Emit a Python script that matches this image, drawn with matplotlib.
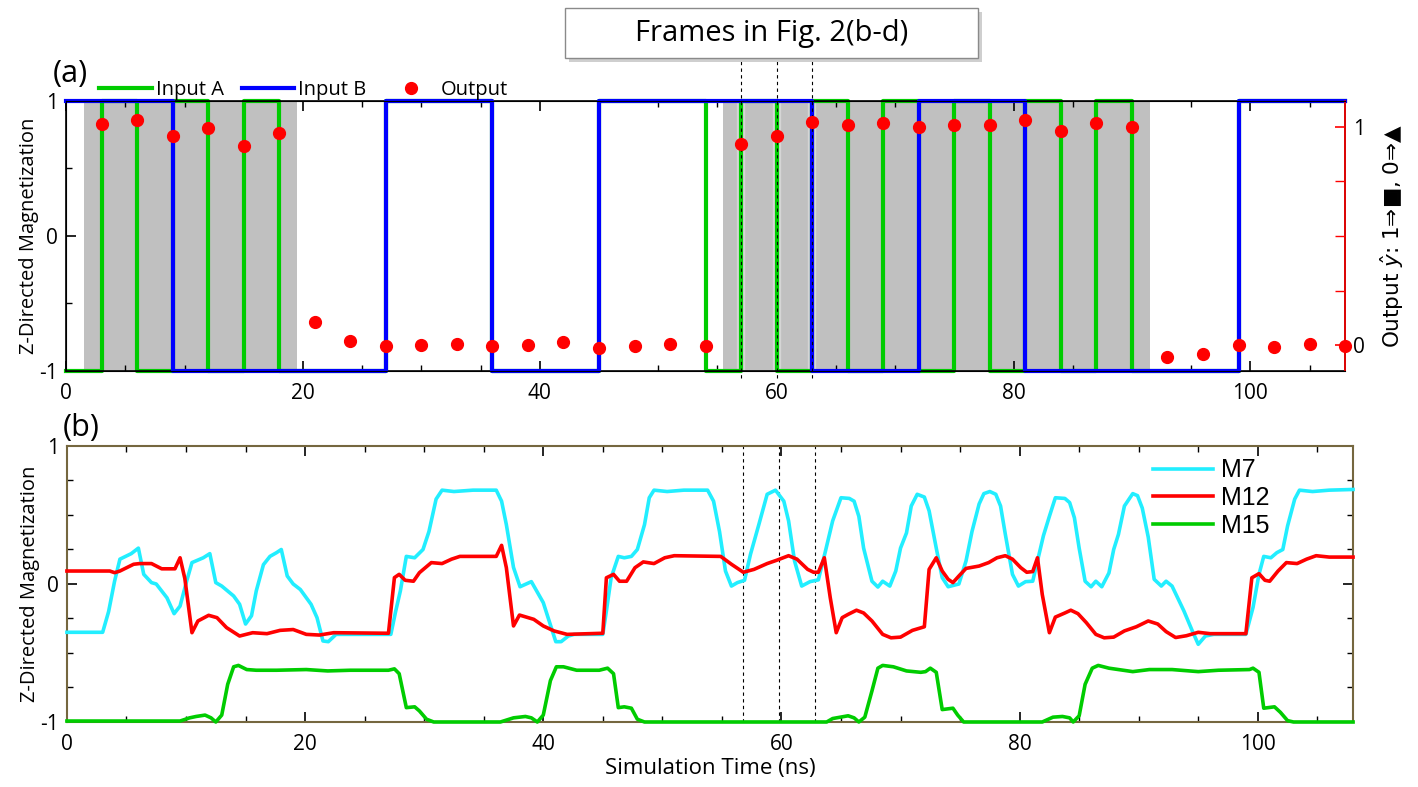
import numpy as np
import matplotlib
matplotlib.use("Agg")
import matplotlib.pyplot as plt
from matplotlib.ticker import MultipleLocator, FixedLocator
from matplotlib.patches import Rectangle

plt.rcParams['font.family'] = ['Open Sans', 'DejaVu Sans']
plt.rcParams['font.size'] = 14.5
plt.rcParams['axes.unicode_minus'] = False

# ---- panel (a) data ----
slot_edges = np.arange(0, 111, 3)          # 0 .. 108 ns, 3 ns per bit
input_a = [-1, 1, -1, 1, -1, 1, -1, -1, -1, 1, 1, 1, -1, -1, -1, 1, 1, 1,
           -1, 1, -1, 1, -1, 1, -1, 1, -1, 1, -1, 1, -1, -1, -1, 1, 1, 1]
input_b = [1, 1, 1, -1, -1, -1, -1, -1, -1, 1, 1, 1, -1, -1, -1, 1, 1, 1,
           1, 1, 1, -1, -1, -1, 1, 1, 1, -1, -1, -1, -1, -1, -1, 1, 1, 1]
out_t = list(range(3, 109, 3))
out_v = [1.014, 1.03, 0.959, 0.994, 0.913, 0.974, 0.107, 0.02, -0.003, 0.0,
         0.006, -0.005, 0.0, 0.012, -0.012, -0.006, 0.006, -0.005, 0.921, 0.957,
         1.021, 1.009, 1.02, 1.0, 1.009, 1.009, 1.032, 0.982, 1.02, 1.0,
         -0.057, -0.041, 0.0, -0.008, 0.006, -0.003]
shade_start = [1.5, 55.5]
shade_end = [19.5, 91.5]
frame_t = [57, 60, 63]

# ---- panel (b) data ----
m7 = [(0, -0.35), (3.0, -0.35), (3.5, -0.2), (4.0, 0.02), (4.45, 0.18), (5.4, 0.22),
      (6.0, 0.26), (6.45, 0.07), (7.1, 0.01), (7.5, 0.0), (8.4, -0.1), (9.0, -0.215),
      (9.5, -0.16), (10.05, 0.02), (10.5, 0.155), (11.45, 0.19), (12.0, 0.22),
      (12.5, 0.01), (13.0, -0.015), (14.0, -0.087), (14.5, -0.147), (15.0, -0.29),
      (15.5, -0.23), (15.9, -0.05), (16.5, 0.14), (17.05, 0.2), (17.6, 0.227),
      (18.0, 0.25), (18.5, 0.058), (19.0, 0.0), (19.6, -0.04), (20.5, -0.147),
      (21.0, -0.244), (21.5, -0.413), (21.95, -0.418), (22.6, -0.365), (27.2, -0.365),
      (27.6, -0.2), (28.0, -0.05), (28.5, 0.2), (29.2, 0.19), (29.9, 0.25), (30.4, 0.38),
      (31.0, 0.615), (31.5, 0.68), (32.5, 0.67), (34.1, 0.68), (36.05, 0.68), (36.5, 0.6),
      (36.9, 0.43), (37.5, 0.12), (38.05, -0.02), (39.0, 0.017), (40.0, -0.135),
      (40.5, -0.27), (41.05, -0.418), (41.5, -0.418), (42.1, -0.377), (42.6, -0.365),
      (45.0, -0.365), (45.3, -0.196), (45.7, 0.046), (46.3, 0.2), (46.8, 0.19),
      (47.4, 0.2), (47.9, 0.25), (48.5, 0.43), (48.9, 0.625), (49.3, 0.68), (50.4, 0.67),
      (51.8, 0.68), (53.8, 0.68), (54.3, 0.6), (54.8, 0.38), (55.3, 0.094),
      (55.8, -0.015), (56.3, 0.01), (56.9, 0.027), (57.4, 0.215), (58.1, 0.43),
      (58.8, 0.65), (59.5, 0.68), (60.2, 0.6), (60.6, 0.457), (61.1, 0.167),
      (61.7, -0.015), (62.4, 0.017), (63.1, 0.03), (63.7, 0.24), (64.3, 0.457),
      (65.0, 0.625), (65.7, 0.62), (66.1, 0.6), (66.5, 0.49), (66.9, 0.26), (67.6, 0.02),
      (68.1, -0.022), (68.5, 0.02), (69.1, -0.015), (69.6, 0.094), (70.0, 0.26),
      (70.5, 0.37), (70.9, 0.565), (71.4, 0.65), (72.0, 0.63), (72.4, 0.53), (73.0, 0.26),
      (73.5, 0.046), (74.0, -0.02), (74.9, 0.0), (75.5, 0.167), (76.0, 0.38),
      (76.6, 0.58), (77.0, 0.655), (77.5, 0.67), (78.0, 0.65), (78.4, 0.565),
      (78.8, 0.36), (79.4, 0.07), (79.9, -0.015), (80.5, 0.017), (81.1, 0.02),
      (81.5, 0.167), (82.0, 0.35), (82.5, 0.49), (83.0, 0.625), (83.8, 0.62),
      (84.2, 0.59), (84.6, 0.48), (85.0, 0.26), (85.5, 0.02), (86.0, -0.02),
      (86.4, 0.02), (86.9, -0.02), (87.5, 0.08), (87.9, 0.25), (88.3, 0.36),
      (88.8, 0.565), (89.5, 0.655), (89.9, 0.64), (90.3, 0.55), (90.8, 0.34),
      (91.3, 0.034), (91.9, -0.015), (92.3, 0.02), (92.8, -0.015), (93.8, -0.196),
      (94.5, -0.34), (95.0, -0.437), (95.6, -0.377), (96.3, -0.365), (99.0, -0.365),
      (99.6, -0.17), (100.1, 0.07), (100.5, 0.2), (101.1, 0.19), (101.6, 0.227),
      (102.1, 0.25), (102.5, 0.42), (103.1, 0.615), (103.5, 0.68), (104.6, 0.67),
      (106.0, 0.68), (108.0, 0.685)]
m12 = [(0, 0.094), (3.6, 0.094), (4.0, 0.082), (4.45, 0.094), (5.6, 0.143), (6.1, 0.148),
       (7.1, 0.148), (7.96, 0.11), (9.07, 0.11), (9.5, 0.19), (9.9, 0.04), (10.5, -0.353),
       (11.0, -0.268), (11.9, -0.227), (12.6, -0.244), (13.4, -0.316), (14.5, -0.377),
       (15.6, -0.353), (16.8, -0.36), (17.9, -0.336), (19.0, -0.33), (20.1, -0.365),
       (21.2, -0.37), (22.4, -0.353), (27.0, -0.357), (27.5, 0.046), (27.9, 0.07),
       (28.4, 0.027), (29.1, 0.02), (29.6, 0.082), (30.6, 0.155), (31.5, 0.148),
       (32.3, 0.18), (33.0, 0.2), (36.05, 0.2), (36.5, 0.28), (36.9, 0.118),
       (37.5, -0.304), (38.0, -0.225), (39.2, -0.256), (40.0, -0.304), (40.9, -0.34),
       (42.0, -0.365), (45.0, -0.357), (45.3, 0.045), (45.9, 0.07), (46.4, 0.02),
       (47.0, 0.02), (47.7, 0.118), (48.4, 0.16), (49.3, 0.148), (50.2, 0.19),
       (51.0, 0.205), (54.9, 0.2), (55.8, 0.143), (56.8, 0.085), (57.7, 0.106),
       (58.8, 0.148), (59.6, 0.172), (60.6, 0.205), (61.3, 0.18), (62.2, 0.106),
       (62.7, 0.085), (63.1, 0.085), (63.6, 0.19), (64.1, -0.1), (64.6, -0.353),
       (65.1, -0.244), (65.6, -0.22), (66.3, -0.19), (66.9, -0.21), (67.6, -0.268),
       (68.5, -0.365), (69.2, -0.39), (70.0, -0.385), (71.0, -0.336), (72.0, -0.31),
       (72.4, 0.106), (73.0, 0.19), (73.5, 0.094), (74.0, 0.034), (74.4, 0.01),
       (74.9, 0.058), (75.5, 0.113), (76.6, 0.13), (77.4, 0.155), (78.1, 0.19),
       (78.8, 0.205), (79.4, 0.18), (80.1, 0.118), (80.6, 0.085), (81.1, 0.09),
       (81.5, 0.19), (81.9, -0.075), (82.5, -0.353), (83.0, -0.24), (83.8, -0.21),
       (84.3, -0.19), (84.9, -0.215), (85.6, -0.28), (86.4, -0.365), (87.1, -0.39),
       (87.9, -0.385), (88.8, -0.34), (89.8, -0.31), (90.8, -0.268), (91.6, -0.29),
       (92.3, -0.345), (93.1, -0.388), (94.0, -0.375), (95.0, -0.35), (96.0, -0.36),
       (99.0, -0.36), (99.5, 0.045), (100.1, 0.075), (100.6, 0.027), (101.0, 0.02),
       (101.7, 0.094), (102.4, 0.155), (103.3, 0.148), (104.1, 0.18), (104.9, 0.205),
       (106.0, 0.195), (108.0, 0.195)]
m15 = [(0, -0.993), (9.5, -0.993), (10.3, -0.97), (10.85, -0.96), (11.6, -0.95),
       (12.1, -0.97), (12.5, -1.0), (13.0, -0.95), (13.5, -0.727), (14.0, -0.6),
       (14.4, -0.59), (15.1, -0.62), (15.9, -0.625), (17.6, -0.625), (20.1, -0.62),
       (21.9, -0.63), (23.8, -0.625), (27.0, -0.625), (27.5, -0.615), (27.9, -0.65),
       (28.5, -0.896), (29.2, -0.89), (29.6, -0.92), (30.2, -0.98), (30.8, -1.0),
       (36.4, -1.0), (37.5, -0.97), (38.5, -0.96), (39.0, -0.97), (39.5, -1.0),
       (40.0, -0.95), (40.6, -0.7), (41.1, -0.6), (41.7, -0.6), (42.8, -0.625),
       (44.7, -0.625), (45.4, -0.61), (45.9, -0.65), (46.3, -0.896), (46.8, -0.89),
       (47.4, -0.9), (47.9, -0.98), (48.5, -1.0), (63.8, -1.0), (64.3, -0.975),
       (65.6, -0.955), (66.1, -0.97), (66.5, -1.0), (67.0, -0.965), (67.6, -0.775),
       (68.1, -0.61), (68.5, -0.59), (69.4, -0.6), (70.5, -0.63), (71.7, -0.64),
       (72.1, -0.635), (72.5, -0.61), (73.0, -0.64), (73.5, -0.91), (74.4, -0.9),
       (74.8, -0.95), (75.3, -1.0), (81.9, -1.0), (82.8, -0.965), (83.6, -0.96),
       (84.2, -0.97), (84.5, -1.0), (85.0, -0.955), (85.5, -0.727), (86.1, -0.61),
       (86.6, -0.59), (87.5, -0.61), (89.5, -0.635), (90.9, -0.62), (92.8, -0.62),
       (95.0, -0.635), (96.7, -0.625), (99.3, -0.62), (99.6, -0.61), (100.1, -0.64),
       (100.5, -0.9), (101.4, -0.89), (101.9, -0.93), (102.5, -0.99), (103.0, -1.0),
       (108.0, -1.0)]

green = '#00cc00'
blue = '#0000ff'
red = '#ff0000'
cyan = '#22eeff'
olive = '#75673f'

fig = plt.figure(figsize=(14.18, 7.87), dpi=100)

# ================= panel (a) =================
ax = fig.add_axes([0.0466, 0.5286, 0.902, 0.3431])
for s, e in zip(shade_start, shade_end):
    ax.axvspan(s, e, color='#c0c0c0', lw=0, zorder=0)
for t in frame_t:
    ax.plot([t, t], [-1.05, 1.33], color='white', lw=6, alpha=0.35,
            clip_on=False, zorder=1)
    ax.plot([t, t], [-1.05, 1.33], color='black', lw=0.8, dashes=(3, 3),
            clip_on=False, zorder=5)
ax.step(slot_edges, input_a + [input_a[-1]], where='post', color=green, lw=3,
        clip_on=False, zorder=2, label='Input A')
ax.step(slot_edges, input_b + [input_b[-1]], where='post', color=blue, lw=3,
        clip_on=False, zorder=3, label='Input B')
ax.set_xlim(0, 108)
ax.set_ylim(-1, 1)
ax.xaxis.set_major_locator(MultipleLocator(20))
ax.xaxis.set_minor_locator(MultipleLocator(5))
ax.yaxis.set_major_locator(FixedLocator([-1, 0, 1]))
ax.yaxis.set_minor_locator(FixedLocator([-0.5, 0.5]))
ax.tick_params(which='both', direction='in', top=True, right=False,
               labelsize=15)
ax.tick_params(axis='x', which='major', pad=9)
ax.tick_params(axis='y', which='major', pad=6)
ax.tick_params(which='major', length=7, width=1.2)
ax.tick_params(which='minor', length=4, width=1)
ax.set_ylabel('Z-Directed Magnetization', labelpad=0)
for sp in ax.spines.values():
    sp.set_linewidth(1.2)

ax2 = ax.twinx()
ax2.plot(out_t, out_v, 'o', color=red, ms=8.5, clip_on=False, zorder=6,
         label='Output')
ax2.set_ylim(-0.119, 1.119)
ax2.yaxis.set_major_locator(FixedLocator([0, 1]))
ax2.yaxis.set_minor_locator(FixedLocator([0.25, 0.5, 0.75]))
ax2.tick_params(which='both', direction='in', color=red, labelsize=15, pad=6)
ax2.tick_params(which='major', length=7, width=1.2)
ax2.tick_params(which='minor', length=7, width=1)
ax2.spines['right'].set_color(red)
ax2.spines['right'].set_linewidth(1.2)
ax2.set_ylabel('Output $\\hat{y}$: 1\u21d2\u25a0, 0\u21d2\u25b2', labelpad=9,
               family='DejaVu Sans', fontsize=15.5)

h1, l1 = ax.get_legend_handles_labels()
h2, l2 = ax2.get_legend_handles_labels()
ax.legend(h1 + h2, l1 + l2, loc='lower left', bbox_to_anchor=(0.026, 1.005),
          ncol=3, frameon=False, borderpad=0, borderaxespad=0,
          handlelength=2.6, handletextpad=0.2, columnspacing=0.9,
          fontsize=14.5)

# ================= panel (b) =================
bx = fig.add_axes([0.0472, 0.0826, 0.907, 0.3507])
for t in frame_t:
    bx.axvline(t - 0.2, color='black', lw=0.8, dashes=(3, 3), zorder=1)
for series, col, name in [(m7, cyan, 'M7'), (m12, red, 'M12'), (m15, green, 'M15')]:
    tt, vv = zip(*series)
    bx.plot(tt, vv, color=col, lw=2.6, label=name, clip_on=False, zorder=3)
bx.set_xlim(0, 108)
bx.set_ylim(-1, 1)
bx.xaxis.set_major_locator(MultipleLocator(20))
bx.xaxis.set_minor_locator(MultipleLocator(5))
bx.yaxis.set_major_locator(FixedLocator([-1, 0, 1]))
bx.yaxis.set_minor_locator(MultipleLocator(0.25))
bx.tick_params(which='both', direction='in', top=True, right=True,
               labelsize=15)
bx.tick_params(axis='x', which='major', pad=9)
bx.tick_params(axis='y', which='major', pad=6)
bx.tick_params(which='major', length=7, width=1.2)
bx.tick_params(which='minor', length=4, width=1)
for sp in bx.spines.values():
    sp.set_color(olive)
    sp.set_linewidth(1.5)
bx.set_ylabel('Z-Directed Magnetization', labelpad=0)
bx.set_xlabel('Simulation Time (ns)', fontsize=16, labelpad=2)
leg = bx.legend(loc='upper right', bbox_to_anchor=(0.935, 0.955), frameon=False,
                borderpad=0, borderaxespad=0, handlelength=2.4,
                handletextpad=0.3, labelspacing=0.15,
                prop={'family': 'Liberation Sans', 'size': 18})

# ================= annotations =================
fig.text(0.037, 0.906, '(a)', fontsize=22, ha='left', va='center')
fig.text(0.044, 0.456, '(b)', fontsize=22, ha='left', va='center')

bx0, by0, bw, bh = 565 / 1418, 1 - 58 / 787, 413 / 1418, 50 / 787
fig.patches.append(Rectangle((bx0 + 4 / 1418, by0 - 4 / 787), bw, bh,
                             transform=fig.transFigure, facecolor='#cfcfcf',
                             edgecolor='none', zorder=8))
fig.patches.append(Rectangle((bx0, by0), bw, bh, transform=fig.transFigure,
                             facecolor='white', edgecolor='#8a8a8a', lw=1,
                             zorder=9))
fig.text(bx0 + bw / 2, by0 + bh / 2, 'Frames in Fig. 2(b-d)', fontsize=21,
         ha='center', va='center', zorder=10)

fig.savefig('out.png', dpi=100)
